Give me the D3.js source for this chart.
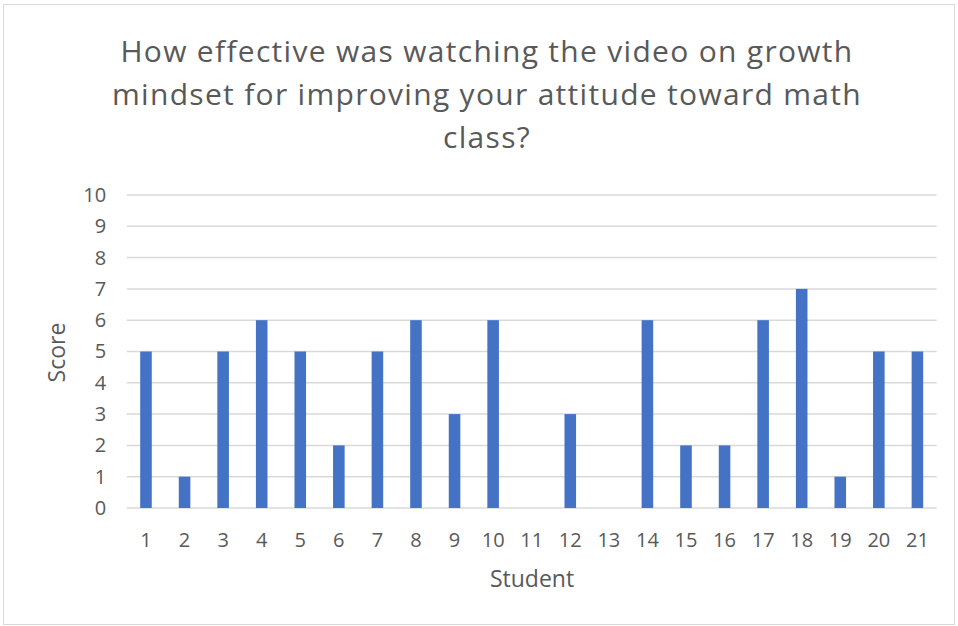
<!DOCTYPE html>
<html><head><meta charset="utf-8">
<script src="https://cdn.jsdelivr.net/npm/d3@7"></script>
<style>body{margin:0;background:#fff;} text{font-family:"Open Sans",Calibri,sans-serif;}</style>
</head><body>
<svg id="c" width="958" height="626"></svg>
<script>
const students = ["1","2","3","4","5","6","7","8","9","10","11","12","13","14","15","16","17","18","19","20","21"];
const scores = [5,1,5,6,5,2,5,6,3,6,0,3,0,6,2,2,6,7,1,5,5];
const yTicks = [0,1,2,3,4,5,6,7,8,9,10];
const titleLines = ["How effective was watching the video on growth","mindset for improving your attitude toward math","class?"];

const svg = d3.select("#c");
svg.append("rect").attr("x",3.5).attr("y",4.5).attr("width",951).attr("height",620)
  .attr("fill","#fff").attr("stroke","#d9d9d9").attr("stroke-width",1);

const m = {l:126.7, r:936.7, t:195, b:508};
const x = d3.scaleBand().domain(students).range([m.l,m.r]).paddingInner(0.7).paddingOuter(0.35);
const y = d3.scaleLinear().domain([0,10]).range([m.b,m.t]);

const grid = svg.append("g");
grid.selectAll("line").data(yTicks).join("line")
  .attr("x1",m.l).attr("x2",m.r).attr("y1",d=>y(d)).attr("y2",d=>y(d))
  .attr("stroke","#d9d9d9").attr("stroke-width",1.5);

svg.append("g").selectAll("rect").data(scores).join("rect")
  .attr("x",(d,i)=>x(students[i])).attr("width",x.bandwidth())
  .attr("y",d=>y(d)).attr("height",d=>y(0)-y(d)).attr("fill","#4472C4");

const yAxis = svg.append("g").attr("transform",`translate(${m.l},0)`)
  .call(d3.axisLeft(y).tickValues(yTicks).tickSize(0).tickPadding(20.5));
yAxis.select(".domain").remove();
yAxis.selectAll("text").attr("font-size",20).attr("fill","#595959").attr("font-family","'Open Sans',sans-serif");

const xAxis = svg.append("g").attr("transform",`translate(0,${m.b})`)
  .call(d3.axisBottom(x).tickSize(0).tickPadding(24.5));
xAxis.select(".domain").remove();
xAxis.selectAll("text").attr("font-size",20).attr("fill","#595959").attr("font-family","'Open Sans',sans-serif");

svg.append("g").selectAll("text").data(titleLines).join("text")
  .attr("x",487).attr("y",(d,i)=>62+i*43).attr("text-anchor","middle")
  .attr("font-size",30).attr("letter-spacing",1.3).attr("fill","#595959").text(d=>d);

svg.append("text").attr("transform","translate(65,352.5) rotate(-90)").attr("text-anchor","middle")
  .attr("font-size",23).attr("fill","#595959").text("Score");
svg.append("text").attr("x",532).attr("y",587).attr("text-anchor","middle")
  .attr("font-size",23).attr("fill","#595959").text("Student");
</script>
</body></html>
